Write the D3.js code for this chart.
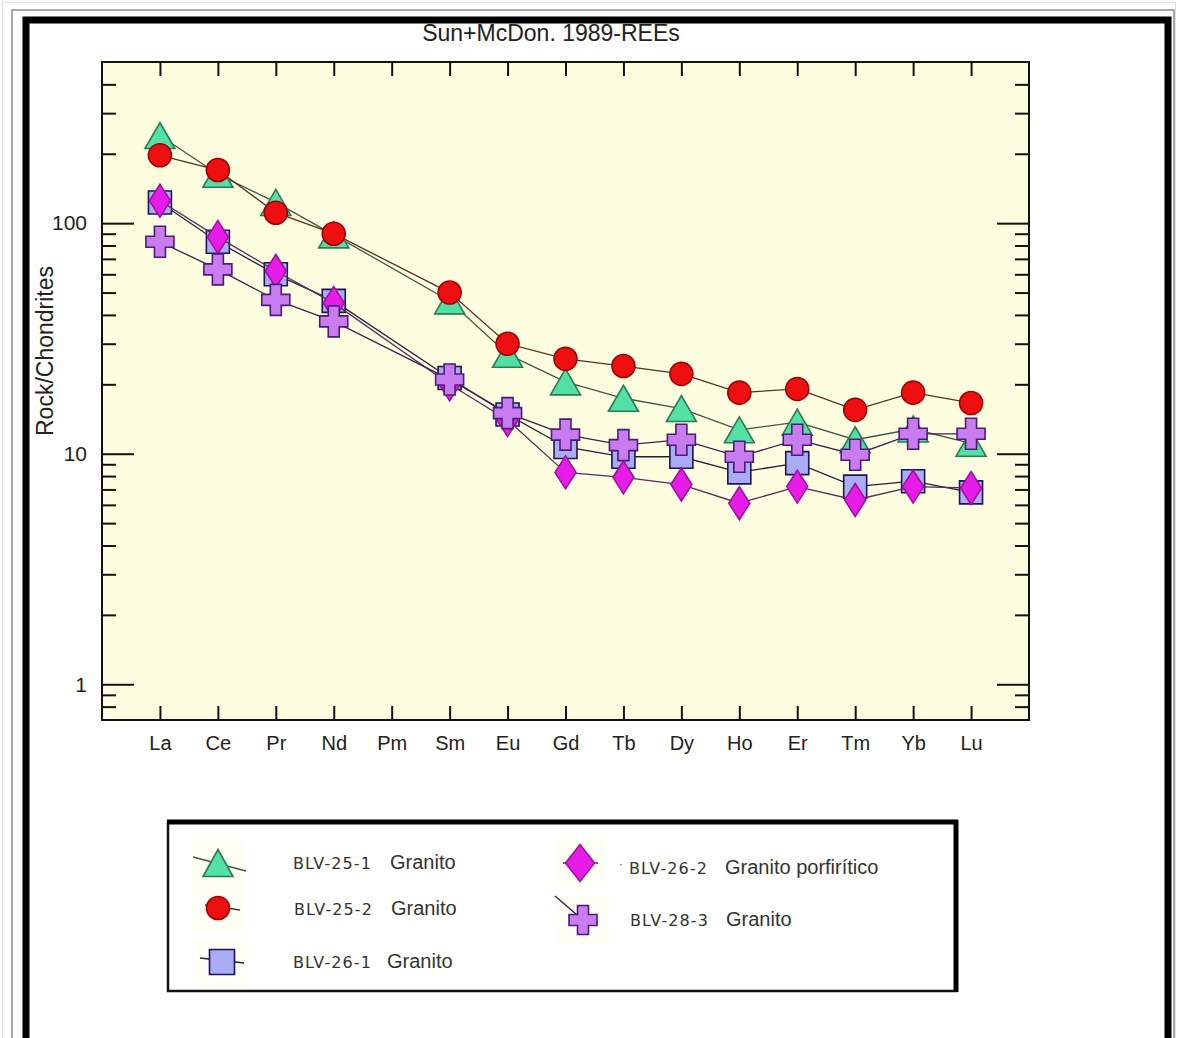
<!DOCTYPE html>
<html lang="en">
<head>
<meta charset="utf-8">
<script src="https://cdn.jsdelivr.net/npm/d3@7"></script>
<style>
    body { margin: 0; background: #fff; }
    text { font-family: "Liberation Sans", Arial, sans-serif; fill: #222; }
    .tick line { stroke: #111; stroke-width: 2; }
</style>
</head>
<body>
<script>

    // REE patterns, chondrite normalised (Sun & McDonough 1989)
    var elements = ["La","Ce","Pr","Nd","Pm","Sm","Eu","Gd","Tb","Dy","Ho","Er","Tm","Yb","Lu"];

    var blv25_1 = [240, 163, 123, 89, null, 46, 27, 20.5, 17.4, 15.7, 12.7, 13.7, 11.5, 12.8, 11.1];
    var blv25_2 = [197, 170, 111, 90, null, 50, 30, 25.8, 24, 22.2, 18.4, 19.1, 15.5, 18.4, 16.6];
    var blv26_1 = [123, 83, 60, 46, null, 21.3, 14.8, 10.7, 9.7, 9.7, 8.3, 9.1, 7.2, 7.6, 6.8];
    var blv26_2 = [125, 87, 62, 45, null, 20, 14, 8.3, 7.9, 7.35, 6.1, 7.2, 6.3, 7.2, 7.1];
    var blv28_3 = [83, 63, 46.5, 37.5, null, 21, 15, 12.1, 10.9, 11.5, 9.7, 11.5, 9.9, 12.2, 12.2];

    var sampleNames = ["BLV-25-1", "BLV-25-2", "BLV-26-1", "BLV-26-2", "BLV-28-3"];
    var rockNames = ["Granito", "Granito", "Granito", "Granito porfirítico", "Granito"];

    var majorTicks = [1, 10, 100];
    var minorTicks = [0.8, 0.9, 2, 3, 4, 5, 6, 7, 8, 9, 20, 30, 40, 50, 60, 70, 80, 90, 200, 300, 400];

    /*
    marker shapes
     */
    function triPath(w, h) {
        return "M0," + (-h/2) + "L" + (w/2) + "," + (h/2) + "L" + (-w/2) + "," + (h/2) + "Z";
    }
    function diamondPath(w, h) {
        return "M0," + (-h/2) + "L" + (w/2) + ",0L0," + (h/2) + "L" + (-w/2) + ",0Z";
    }
    function squarePath(s) {
        return "M" + (-s/2) + "," + (-s/2) + "h" + s + "v" + s + "h" + (-s) + "Z";
    }
    function crossPath(w, h, a) {
        var x = w/2, y = h/2, b = a/2;
        return "M" + (-b) + "," + (-y) + "H" + b + "V" + (-b) + "H" + x + "V" + b + "H" + b +
               "V" + y + "H" + (-b) + "V" + b + "H" + (-x) + "V" + (-b) + "H" + (-b) + "Z";
    }
    function circlePath(r) {
        return "M" + (-r) + ",0A" + r + "," + r + " 0 1,0 " + r + ",0A" + r + "," + r + " 0 1,0 " + (-r) + ",0Z";
    }

    var series = [
        {values: blv25_1, shape: triPath(30, 26), fill: "#52e0a4", stroke: "#2f7a55", line: "#3d5a45"},
        {values: blv25_2, shape: circlePath(11.5), fill: "#ee1010", stroke: "#a00000", line: "#5a3022"},
        {values: blv26_1, shape: squarePath(23), fill: "#a9acf4", stroke: "#1c1458", line: "#22223e"},
        {values: blv26_2, shape: diamondPath(21, 33), fill: "#e81ce8", stroke: "#a010a0", line: "#5e2a5e"},
        {values: blv28_3, shape: crossPath(28, 31, 11), fill: "#c97bf0", stroke: "#4e1c78", line: "#3e2250"}
    ];

    var W = 1178, H = 1038;
    var mLeft = 102, mRight = 1029, mTop = 62, mBottom = 720;

    var svg = d3.select("body").append("svg")
            .attr("width", W)
            .attr("height", H);

    // frames
    svg.append("rect").attr("x", 2.5).attr("y", 2.5).attr("width", W - 5).attr("height", H)
            .style("fill", "none").style("stroke", "#e2e2e2").style("stroke-width", 1);
    svg.append("rect").attr("x", 12).attr("y", 10).attr("width", 1162).attr("height", H)
            .style("fill", "none").style("stroke", "#a8a8a8").style("stroke-width", 2);
    svg.append("rect").attr("x", 26).attr("y", 20).attr("width", 1142).attr("height", H + 20)
            .style("fill", "#fff").style("stroke", "#000").style("stroke-width", 7);

    var x = d3.scalePoint().domain(elements).range([mLeft, mRight]).padding(1);
    var y = d3.scaleLog().domain([0.7, 500]).range([mBottom, mTop]);

    // plot background
    svg.append("rect")
            .attr("x", mLeft).attr("y", mTop)
            .attr("width", mRight - mLeft).attr("height", mBottom - mTop)
            .style("fill", "#fdfddf");

    // axes, ticks inward
    function clean(g) { g.select(".domain").remove(); }

    svg.append("g").attr("transform", "translate(" + mLeft + ",0)")
            .call(d3.axisLeft(y).tickValues(majorTicks).tickSize(-32).tickPadding(15).tickFormat(d3.format("d")))
            .call(clean)
            .selectAll("text").style("font-size", "21px").style("font-family", "Liberation Sans, Arial, sans-serif").style("fill", "#222");
    svg.append("g").attr("transform", "translate(" + mLeft + ",0)")
            .call(d3.axisLeft(y).tickValues(minorTicks).tickSize(-14).tickFormat(""))
            .call(clean);
    svg.append("g").attr("transform", "translate(" + mRight + ",0)")
            .call(d3.axisRight(y).tickValues(majorTicks).tickSize(-32).tickFormat(""))
            .call(clean);
    svg.append("g").attr("transform", "translate(" + mRight + ",0)")
            .call(d3.axisRight(y).tickValues(minorTicks).tickSize(-14).tickFormat(""))
            .call(clean);
    svg.append("g").attr("transform", "translate(0," + mBottom + ")")
            .call(d3.axisBottom(x).tickSize(-14).tickPadding(16))
            .call(clean)
            .selectAll("text").style("font-size", "20px").style("font-family", "Liberation Sans, Arial, sans-serif").style("fill", "#222");
    svg.append("g").attr("transform", "translate(0," + mTop + ")")
            .call(d3.axisTop(x).tickSize(-14).tickFormat(""))
            .call(clean);

    svg.append("rect")
            .attr("x", mLeft).attr("y", mTop)
            .attr("width", mRight - mLeft).attr("height", mBottom - mTop)
            .style("fill", "none").style("stroke", "#111").style("stroke-width", 2);

    // titles
    svg.append("text")
            .attr("x", 551).attr("y", 41)
            .attr("text-anchor", "middle")
            .style("font-size", "23px")
            .text("Sun+McDon. 1989-REEs");

    svg.append("text")
            .attr("transform", "translate(53,351) rotate(-90)")
            .attr("text-anchor", "middle")
            .style("font-size", "23px")
            .text("Rock/Chondrites");

    /*
    series: line then markers
     */
    var line = d3.line()
            .x(function(d){ return x(d.el); })
            .y(function(d){ return y(d.v); });

    series.forEach(function(s){
        var pts = elements.map(function(el, i){ return {el: el, v: s.values[i]}; })
                .filter(function(d){ return d.v != null; });

        svg.append("path")
                .datum(pts)
                .attr("d", line)
                .style("fill", "none")
                .style("stroke", s.line)
                .style("stroke-width", 1.3);

        svg.selectAll(null)
                .data(pts)
                .enter()
                .append("path")
                .attr("d", s.shape)
                .attr("transform", function(d){ return "translate(" + x(d.el) + "," + y(d.v) + ")"; })
                .style("fill", s.fill)
                .style("stroke", s.stroke)
                .style("stroke-width", 1.6);
    });

    /*
    legend
     */
    var lg = svg.append("g");
    lg.append("rect").attr("x", 168).attr("y", 822).attr("width", 788).attr("height", 169)
            .style("fill", "#fff").style("stroke", "#111").style("stroke-width", 2.5);
    lg.append("line").attr("x1", 167).attr("x2", 958).attr("y1", 822).attr("y2", 822)
            .style("stroke", "#000").style("stroke-width", 5);
    lg.append("line").attr("x1", 956).attr("x2", 956).attr("y1", 820).attr("y2", 992)
            .style("stroke", "#000").style("stroke-width", 5);

    var legendPos = [
        {mx: 218, my: 863, tx: 293, gx: 390, ty: 869, seg: [[193, 857], [246, 871]]},
        {mx: 218, my: 908, tx: 294, gx: 391, ty: 915, seg: [[205, 905], [240, 910]]},
        {mx: 222, my: 962, tx: 293, gx: 387, ty: 968, seg: [[200, 958], [244, 963]]},
        {mx: 580, my: 863, tx: 629, gx: 725, ty: 874, seg: [[563, 863], [598, 863]]},
        {mx: 583, my: 920, tx: 630, gx: 726, ty: 926, seg: [[555, 896], [583, 920], [598, 922]]}
    ];
    var legendShapes = [triPath(30, 27), circlePath(11.5), squarePath(25), diamondPath(29, 37), crossPath(28, 29, 11)];

    legendPos.forEach(function(p, i){
        var s = series[i];
        lg.append("rect").attr("x", p.mx - 26).attr("y", p.my - 24).attr("width", 52).attr("height", 48)
                .style("fill", "#fefef5");
        lg.append("path")
                .attr("d", d3.line()(p.seg))
                .style("fill", "none").style("stroke", s.line).style("stroke-width", 1.4);
        lg.append("path")
                .attr("d", legendShapes[i])
                .attr("transform", "translate(" + p.mx + "," + p.my + ")")
                .style("fill", s.fill).style("stroke", s.stroke).style("stroke-width", 1.6);
        lg.append("text")
                .attr("x", p.tx).attr("y", p.ty)
                .style("font-family", "DejaVu Sans, Verdana, sans-serif")
                .style("font-size", "16px")
                .style("letter-spacing", "1.1px")
                .style("fill", "#333")
                .text(sampleNames[i]);
        lg.append("text")
                .attr("x", p.gx).attr("y", p.ty)
                .style("font-size", "20px")
                .style("fill", "#333")
                .text(rockNames[i]);
    });
    lg.append("text").attr("x", 619).attr("y", 868).style("font-size", "12px").style("fill", "#555").text("·");

</script>
</body>
</html>
